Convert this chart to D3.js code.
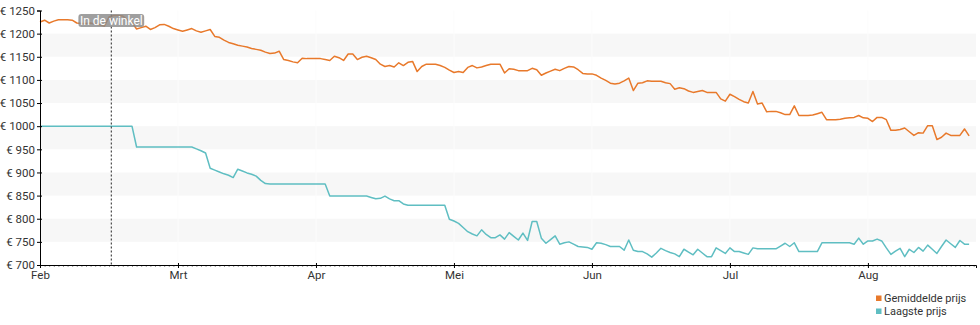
<!DOCTYPE html>
<html>
<head>
<meta charset="utf-8">
<script src="https://cdn.jsdelivr.net/npm/d3@7"></script>
<style>
  html, body { margin: 0; padding: 0; background: #fff; }
  svg { display: block; font-family: Roboto, "Noto Sans", sans-serif; }
</style>
</head>
<body>
<svg id="chart" width="980" height="325"></svg>
<script>
// Month ticks (day offset from the first day) and their labels
const monthLabels = ["Feb", "Mrt", "Apr", "Mei", "Jun", "Jul", "Aug"];
const monthDays = [0, 30, 60, 90, 120, 150, 180];

// Price axis ticks
const priceTicks = [700, 750, 800, 850, 900, 950, 1000, 1050, 1100, 1150, 1200, 1250];

// Series names
const seriesNames = ["Gemiddelde prijs", "Laagste prijs"];

// Daily average price (day 0 .. 202)
const avgPrice = [
  1225, 1229, 1223, 1227, 1230, 1230, 1230, 1229, 1223, 1222,
  1222, 1223, 1221, 1219, 1216, 1236, 1239, 1239, 1238, 1230,
  1224, 1210, 1213, 1216, 1209, 1213, 1219, 1220, 1216, 1211,
  1208, 1205, 1208, 1211, 1206, 1203, 1206, 1209, 1194, 1192,
  1186, 1181, 1178, 1175, 1173, 1171, 1168, 1166, 1164, 1160,
  1157, 1158, 1162, 1144, 1142, 1139, 1137, 1147, 1146, 1146,
  1146, 1146, 1144, 1142, 1151, 1148, 1142, 1156, 1156, 1144,
  1149, 1151, 1148, 1144, 1134, 1129, 1131, 1128, 1137, 1131,
  1138, 1140, 1118, 1129, 1134, 1134, 1134, 1131, 1127, 1121,
  1116, 1118, 1116, 1127, 1131, 1126, 1128, 1131, 1134, 1134,
  1134, 1115, 1124, 1123, 1120, 1120, 1120, 1125, 1122, 1110,
  1115, 1119, 1123, 1120, 1125, 1129, 1128, 1122, 1114, 1113,
  1113, 1110, 1104, 1099, 1093, 1091, 1093, 1098, 1104, 1077,
  1093, 1094, 1098, 1097, 1097, 1097, 1094, 1092, 1080, 1083,
  1081, 1076, 1073, 1075, 1077, 1073, 1073, 1073, 1059, 1054,
  1069, 1064, 1058, 1053, 1050, 1075, 1048, 1050, 1031, 1032,
  1032, 1029, 1025, 1025, 1044, 1023, 1023, 1023, 1024, 1027,
  1030, 1014, 1014, 1014, 1015, 1017, 1018, 1019, 1023, 1018,
  1017, 1010, 1019, 1019, 1014, 991, 991, 993, 996, 988,
  980, 986, 985, 1001, 1001, 971, 976, 985, 980, 980,
  980, 994, 979
];

// Daily lowest price (day 0 .. 202)
const lowPrice = [
  1000, 1000, 1000, 1000, 1000, 1000, 1000, 1000, 1000, 1000,
  1000, 1000, 1000, 1000, 1000, 1000, 1000, 1000, 1000, 1000,
  1000, 955, 955, 955, 955, 955, 955, 955, 955, 955,
  955, 955, 955, 955, 951, 947, 942, 909, 905, 901,
  897, 894, 889, 907, 903, 899, 896, 892, 883, 876,
  875, 875, 875, 875, 875, 875, 875, 875, 875, 875,
  875, 875, 875, 849, 849, 849, 849, 849, 849, 849,
  849, 849, 846, 843, 844, 849, 843, 839, 839, 832,
  829, 829, 829, 829, 829, 829, 829, 829, 829, 799,
  795, 790, 781, 772, 767, 763, 776, 766, 759, 759,
  765, 756, 770, 762, 754, 769, 753, 794, 794, 758,
  747, 755, 763, 745, 748, 750, 745, 740, 739, 738,
  734, 748, 747, 744, 740, 740, 740, 732, 754, 732,
  729, 729, 724, 717, 726, 736, 731, 727, 724, 718,
  734, 728, 722, 734, 726, 718, 718, 737, 731, 725,
  737, 729, 729, 726, 723, 737, 735, 735, 735, 735,
  735, 741, 747, 740, 748, 729, 729, 729, 729, 729,
  748, 748, 748, 748, 748, 748, 748, 745, 758, 745,
  752, 752, 756, 752, 737, 723, 730, 736, 718, 734,
  727, 738, 730, 743, 734, 725, 740, 754, 746, 738,
  753, 745, 745
];

// Store-availability marker
const markerDay = 15.5;
const markerLabel = "In de winkel";

const colors = ["#e8792b", "#5fbec2"];

const svg = d3.select("#chart");
const plotLeft = 40, plotRight = 976, plotTop = 10.5, plotBottom = 265;
const lastDay = 203.5;
const axisFont = 11.5;

const x = d3.scaleLinear().domain([0, lastDay]).range([plotLeft, plotRight]);
const y = d3.scaleLinear().domain([700, 1250]).range([plotBottom, plotTop]);

// Alternating horizontal bands
const bandStarts = priceTicks.filter(v => v < 1250 && ((v - 750) / 50) % 2 === 0);
svg.append("g").selectAll("rect")
  .data(bandStarts)
  .join("rect")
  .attr("x", plotLeft)
  .attr("width", plotRight - plotLeft)
  .attr("y", d => y(d + 50))
  .attr("height", d => y(d) - y(d + 50))
  .attr("fill", "#f7f7f7");

// Faint month separators
svg.append("g").selectAll("line")
  .data(monthDays.slice(1))
  .join("line")
  .attr("x1", d => x(d)).attr("x2", d => x(d))
  .attr("y1", plotTop).attr("y2", plotBottom)
  .attr("stroke", "#fcfcfc")
  .attr("stroke-width", 1);

// Price lines
const line = d3.line()
  .x((d, i) => x(i))
  .y(d => y(d));

[avgPrice, lowPrice].forEach((series, k) => {
  svg.append("path")
    .datum(series)
    .attr("d", line)
    .attr("fill", "none")
    .attr("stroke", colors[k])
    .attr("stroke-width", 1.5)
    .attr("stroke-linejoin", "round");
});

// Marker line and label
svg.append("line")
  .attr("x1", x(markerDay)).attr("x2", x(markerDay))
  .attr("y1", plotTop).attr("y2", plotBottom)
  .attr("stroke", "#222")
  .attr("stroke-width", 1)
  .attr("stroke-dasharray", "2,2");

const mk = svg.append("g").attr("transform", `translate(${x(markerDay)},20.5)`);
const mkText = mk.append("text")
  .attr("text-anchor", "middle")
  .attr("dy", "0.35em")
  .attr("fill", "#fff")
  .attr("font-size", 12)
  .text(markerLabel);
const bb = mkText.node().getBBox();
mk.insert("rect", "text")
  .attr("x", bb.x - 1.5)
  .attr("y", -6.5)
  .attr("width", bb.width + 3)
  .attr("height", 13)
  .attr("rx", 3)
  .attr("fill", "#8a8a8a")
  .attr("fill-opacity", 0.82);

// Y axis
const yAxis = svg.append("g")
  .attr("transform", `translate(${plotLeft},0)`)
  .call(d3.axisLeft(y).tickValues(priceTicks).tickSize(3).tickPadding(2)
    .tickFormat(d => "€ " + d));
yAxis.selectAll(".tick line").attr("x1", 2);
yAxis.selectAll("text").attr("font-size", axisFont).attr("fill", "#333").attr("font-family", "Roboto, sans-serif");
yAxis.select(".domain").attr("stroke", "#000");

// X axis: daily minor ticks
const xMinor = svg.append("g")
  .attr("transform", `translate(0,${plotBottom})`)
  .call(d3.axisBottom(x).tickValues(d3.range(0, Math.floor(lastDay) + 1)).tickSize(2).tickFormat(""));
xMinor.select(".domain").remove();
xMinor.selectAll(".tick line").attr("stroke", "#9a9a9a");

// X axis: months
const xAxis = svg.append("g")
  .attr("transform", `translate(0,${plotBottom})`)
  .call(d3.axisBottom(x).tickValues(monthDays).tickSize(3).tickPadding(3)
    .tickFormat((d, i) => monthLabels[i]));
xAxis.selectAll(".tick line").attr("y1", -2);
xAxis.selectAll("text").attr("font-size", axisFont).attr("fill", "#333").attr("font-family", "Roboto, sans-serif");
xAxis.select(".domain").attr("stroke", "#000");

// Legend
const legend = svg.append("g").attr("transform", "translate(876,298)");
seriesNames.forEach((name, i) => {
  const g = legend.append("g").attr("transform", `translate(0,${i * 13})`);
  g.append("rect").attr("x", 0).attr("y", -2.5).attr("width", 5.5).attr("height", 5.5).attr("fill", colors[i]);
  g.append("text").attr("x", 8).attr("dy", "0.35em").attr("font-size", 11).attr("fill", "#333").text(name);
});
</script>
</body>
</html>
